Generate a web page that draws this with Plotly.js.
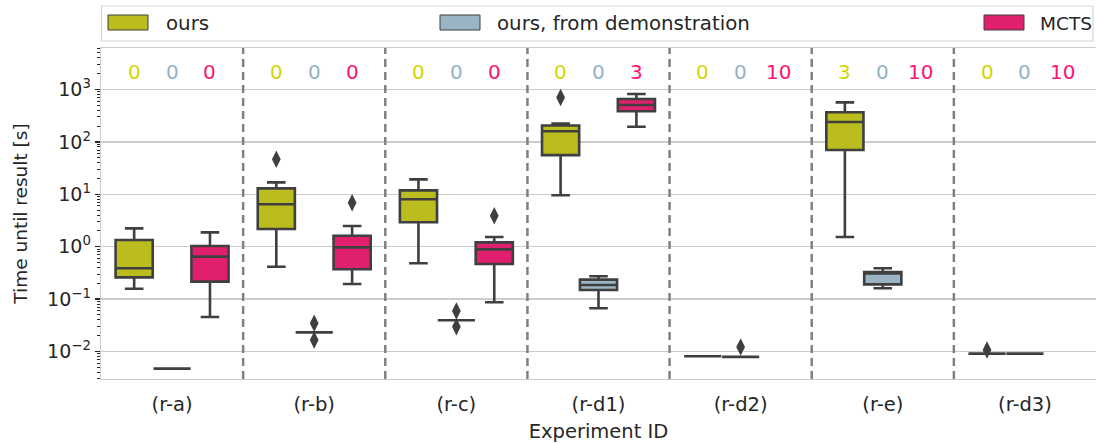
<!DOCTYPE html>
<html>
<head>
<meta charset="utf-8">
<script src="https://cdn.plot.ly/plotly-3.0.1.min.js"></script>
<style>html,body{margin:0;padding:0;background:#fff;}#chart{width:1096px;height:443px;}</style>
</head>
<body>
<div id="chart"></div>
<script>
// ---------------- data ----------------
const categories = ["(r-a)", "(r-b)", "(r-c)", "(r-d1)", "(r-d2)", "(r-e)", "(r-d3)"];
const seriesNames = ["ours", "ours, from demonstration", "MCTS"];

// ours
const oursCat        = [0, 1, 2, 3, 4, 5, 6];
const oursLower      = [0.158, 0.415, 0.482, 9.6, 0.0081, 1.53, 0.0091];
const oursQ1         = [0.26, 2.18, 2.92, 56, 0.0081, 70, 0.0091];
const oursMedian     = [0.387, 6.45, 8.03, 160, 0.0081, 240, 0.0091];
const oursQ3         = [1.34, 13.0, 11.9, 205, 0.0081, 367, 0.0091];
const oursUpper      = [2.24, 16.9, 19.3, 225, 0.0081, 569, 0.0091];
const oursOutCat     = [1, 3, 6];
const oursOutVal     = [46.6, 701, 0.0107];
const oursFailures   = [0, 0, 0, 0, 0, 3, 0];

// ours, from demonstration
const demoCat        = [0, 1, 2, 3, 4, 5, 6];
const demoLower      = [0.0047, 0.0232, 0.0394, 0.0667, 0.0079, 0.161, 0.0091];
const demoQ1         = [0.0047, 0.0232, 0.0394, 0.149, 0.0079, 0.191, 0.0091];
const demoMedian     = [0.0047, 0.0232, 0.0394, 0.186, 0.0079, 0.31, 0.0091];
const demoQ3         = [0.0047, 0.0232, 0.0394, 0.235, 0.0079, 0.329, 0.0091];
const demoUpper      = [0.0047, 0.0232, 0.0394, 0.272, 0.0079, 0.387, 0.0091];
const demoOutCat     = [1, 1, 2, 2, 4];
const demoOutVal     = [0.0346, 0.0166, 0.0593, 0.0297, 0.0122];
const demoFailures   = [0, 0, 0, 0, 0, 0, 0];

// MCTS
const mctsCat        = [0, 1, 2, 3];
const mctsLower      = [0.0455, 0.194, 0.0868, 195];
const mctsQ1         = [0.215, 0.37, 0.468, 385];
const mctsMedian     = [0.645, 0.97, 0.89, 506];
const mctsQ3         = [1.03, 1.62, 1.21, 660];
const mctsUpper      = [1.88, 2.48, 1.53, 820];
const mctsOutCat     = [1, 2];
const mctsOutVal     = [6.9, 3.9];
const mctsFailures   = [0, 0, 0, 3, 10, 10, 10];

// ---------------- styles ----------------
const boxColors  = ["#bbbd1f", "#9ab4c3", "#e0206f"];
const textColors = ["#d6d400", "#8fb4c8", "#ff1270"];
const edgeColor  = "#3f3f3f";
const FONT = "DejaVu Sans";
const TXT = "#262626";

const W = 1096, H = 443;
const M = {l: 101, r: 0, t: 48, b: 64};
const groupWidth = 0.8;
const nHue = 3;
const hueWidth = groupWidth / nHue;
const boxWidth = hueWidth * 0.98;
const offsets = [-hueWidth, 0, hueWidth];

function pos(cats, h) { return cats.map(c => c + offsets[h]); }

const series = [
  {cat: oursCat, lo: oursLower, q1: oursQ1, med: oursMedian, q3: oursQ3, hi: oursUpper, oc: oursOutCat, ov: oursOutVal, fail: oursFailures},
  {cat: demoCat, lo: demoLower, q1: demoQ1, med: demoMedian, q3: demoQ3, hi: demoUpper, oc: demoOutCat, ov: demoOutVal, fail: demoFailures},
  {cat: mctsCat, lo: mctsLower, q1: mctsQ1, med: mctsMedian, q3: mctsQ3, hi: mctsUpper, oc: mctsOutCat, ov: mctsOutVal, fail: mctsFailures}
];

const traces = [];
series.forEach((s, h) => {
  traces.push({
    type: "box", orientation: "v", name: seriesNames[h],
    x: pos(s.cat, h), q1: s.q1, median: s.med, q3: s.q3,
    lowerfence: s.lo, upperfence: s.hi,
    width: boxWidth, whiskerwidth: 0.5,
    fillcolor: boxColors[h], line: {color: edgeColor, width: 2.6},
    boxpoints: false, showlegend: false, hoverinfo: "skip"
  });
});
series.forEach((s, h) => {
  traces.push({
    type: "scatter", mode: "markers", name: seriesNames[h] + " outliers",
    x: pos(s.oc, h), y: s.ov,
    marker: {symbol: "diamond-tall", size: 12.5, color: edgeColor, line: {width: 0}},
    showlegend: false, hoverinfo: "skip", cliponaxis: false
  });
});

// pixel helpers for layout decorations (legend frame, labels)
const plotW = W - M.l - M.r, plotH = H - M.t - M.b;
const pxX = px => (px - M.l) / plotW;
const pxY = py => (H - M.b - py) / plotH;

const shapes = [];
const annotations = [];

// dashed separators between experiments
for (let i = 0; i < categories.length - 1; i++) {
  shapes.push({type: "line", xref: "x", yref: "paper", x0: i + 0.5, x1: i + 0.5, y0: 0, y1: 1,
    line: {color: "#808080", width: 2.5, dash: "8px,5px"}, layer: "above"});
}

// failure counts
series.forEach((s, h) => {
  s.fail.forEach((f, i) => {
    annotations.push({xref: "x", yref: "paper", x: i + offsets[h], y: pxY(72),
      text: String(f), showarrow: false, xanchor: "center", yanchor: "middle",
      font: {family: FONT, size: 20, color: textColors[h]}});
  });
});

// legend (expand mode, 3 columns)
shapes.push({type: "rect", xref: "paper", yref: "paper", x0: pxX(101.5), x1: pxX(1093), y0: pxY(41), y1: pxY(6),
  line: {color: "#d6d6d6", width: 1.2}, fillcolor: "rgba(255,255,255,0.8)"});
const legPatchX = [108, 440, 984];
const legTextX = [164, 495, 1038];
seriesNames.forEach((n, h) => {
  shapes.push({type: "rect", xref: "paper", yref: "paper",
    x0: pxX(legPatchX[h]), x1: pxX(legPatchX[h] + 40), y0: pxY(30), y1: pxY(15),
    line: {color: edgeColor, width: 1}, fillcolor: boxColors[h]});
  annotations.push({xref: "paper", yref: "paper", x: pxX(legTextX[h]), y: pxY(23),
    text: n, showarrow: false, xanchor: "left", yanchor: "middle",
    font: {family: FONT, size: h === 2 ? 18.5 : 19.8, color: TXT}});
});

// y-axis ticks
const yTickVals = [0.01, 0.1, 1, 10, 100, 1000];
const yTickText = ["10<sup>\u22122</sup>", "10<sup>\u22121</sup>", "10<sup>0</sup>", "10<sup>1</sup>", "10<sup>2</sup>", "10<sup>3</sup>"];
const minorVals = [];
for (let k = -3; k <= 3; k++) for (let d = 2; d <= 9; d++) minorVals.push(d * Math.pow(10, k));

const layout = {
  width: W, height: H,
  margin: M,
  paper_bgcolor: "#ffffff", plot_bgcolor: "#ffffff",
  font: {family: FONT, color: TXT, size: 19},
  boxmode: "overlay",
  showlegend: false,
  xaxis: {
    range: [-0.5, 6.5], tickmode: "array", tickvals: categories.map((c, i) => i), ticktext: categories,
    showgrid: false, zeroline: false, showline: true, linecolor: "#cccccc", linewidth: 1.3, mirror: true,
    ticks: "", ticklabelstandoff: 7, tickfont: {family: FONT, size: 19.5, color: TXT},
    title: {text: "Experiment ID", font: {family: FONT, size: 19.5, color: TXT}, standoff: 10}
  },
  yaxis: {
    type: "log", range: [-2.525, 3.792],
    tickmode: "array", tickvals: yTickVals, ticktext: yTickText,
    showgrid: true, gridcolor: "#cccccc", gridwidth: 1.3, zeroline: false,
    showline: true, linecolor: "#cccccc", linewidth: 1.3, mirror: true,
    ticks: "outside", ticklen: 5, tickwidth: 1.3, tickcolor: TXT,
    tickfont: {family: FONT, size: 19, color: TXT},
    minor: {tickmode: "array", tickvals: minorVals, ticks: "outside", ticklen: 2.5, tickwidth: 1, tickcolor: TXT, showgrid: false},
    title: {text: "Time until result [s]", font: {family: FONT, size: 18.5, color: TXT}, standoff: 14}
  },
  shapes: shapes,
  annotations: annotations
};

Plotly.newPlot("chart", traces, layout, {displayModeBar: false, staticPlot: true});
</script>
</body>
</html>
